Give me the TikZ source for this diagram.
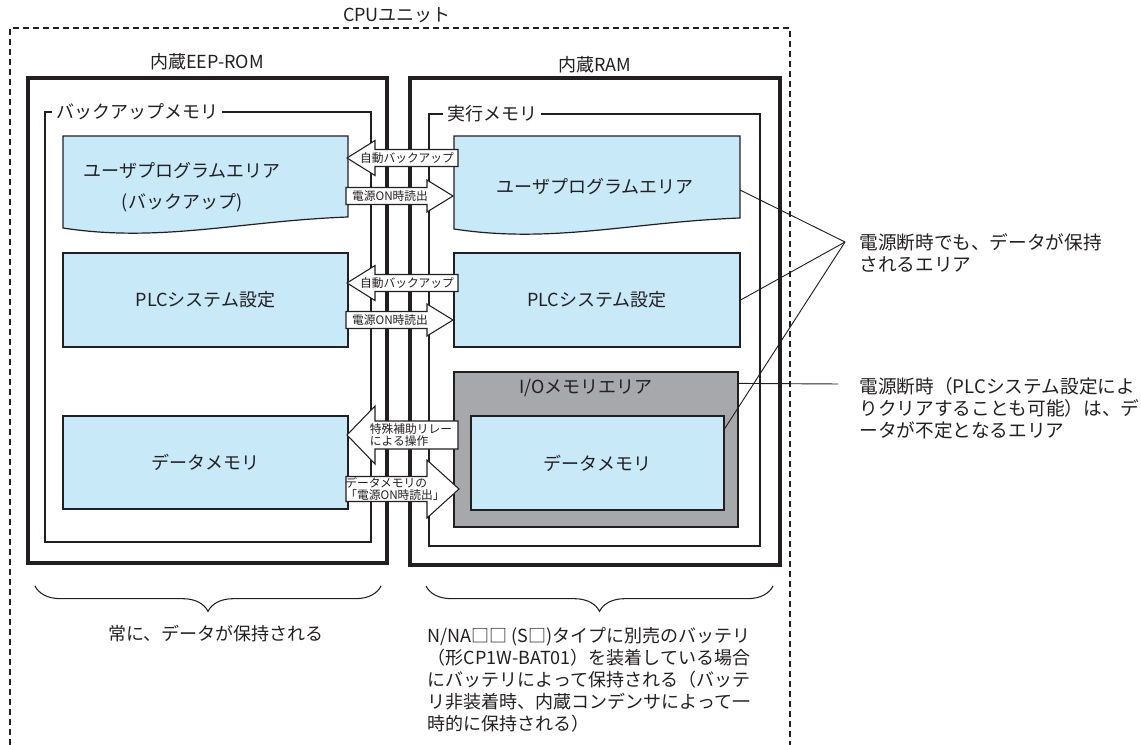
\documentclass[tikz,border=0pt]{standalone}
\usepackage{fontspec}
\setmainfont{Noto Sans CJK JP}
\usetikzlibrary{positioning,decorations.pathreplacing}
\definecolor{ink}{RGB}{35,31,32}
\definecolor{memblue}{RGB}{199,233,248}
\definecolor{iogrey}{RGB}{167,168,172}
\newcommand{\bigfont}{\fontsize{13.5}{16.5}\selectfont}
\newcommand{\notefont}{\fontsize{14}{16.5}\selectfont}
\newcommand{\tinyfont}{\fontsize{8.8}{9.5}\selectfont}
\tikzset{
  sz/.style 2 args={minimum width=#1*0.75pt,minimum height=#2*0.75pt,inner sep=0pt},
  cpuframe/.style={draw=ink,line width=0.8pt,dash pattern=on 4.5pt off 3pt},
  chip/.style={draw=ink,line width=2.3pt},
  region/.style={draw=ink,line width=0.8pt},
  area/.style={draw=ink,fill=#1,line width=0.9pt},
  area/.default=memblue,
  biglabel/.style={font=\bigfont,text=ink,inner sep=1pt},
  note/.style={font=\notefont,text=ink,inner sep=1pt,anchor=north west,align=left},
  edgelabel/.style={font=\bigfont,text=ink,fill=white,inner xsep=3pt,inner ysep=0pt,anchor=west},
  arrowtext/.style={font=\tinyfont,text=ink,align=left,inner sep=0pt},
  callout/.style={draw=ink,line width=0.7pt},
  bracket/.style={draw=ink,line width=0.8pt,decorate,decoration={brace,mirror,amplitude=19pt}},
  % block arrow, tip at the origin, pointing to the left
  pics/fat/.style n args={4}{code={
    \draw[ink,fill=white,line width=0.8pt] (0,0) -- (#2,-#4) -- (#2,-#3) -- (#1,-#3)
      -- (#1,#3) -- (#2,#3) -- (#2,#4) -- cycle;
  }},
}
\begin{document}
\begin{tikzpicture}[x=0.75pt,y=-0.75pt]
  \useasboundingbox (0,0) rectangle (1141,745);
  % CPU unit, open at the bottom
  \draw[cpuframe] (10,745) -- (10,28) -- (790,28) -- (790,745);
  \node[biglabel] (cpu) at (397,15) {CPUユニット};

  % built-in memories
  \node[chip,sz={359}{485}] (rom) at (207.5,320.5) {};
  \node[chip,sz={370}{487}] (ram) at (595,321.5) {};
  \node[biglabel] (romlbl) at (207,62) {内蔵EEP-ROM};
  \node[biglabel] (ramlbl) at (595,65) {内蔵RAM};
  \node[region,sz={326}{430}] (bak) at (208,327) {};
  \node[region,sz={331}{432}] (exe) at (594.5,330) {};
  \node[edgelabel] (baklbl) at (52,112) {バックアップメモリ};
  \node[edgelabel] (exelbl) at (443,114) {実行メモリ};

  % backup side
  \draw[area] (63,136) -- (348,136) -- (348,217) .. controls (240,221) and (160,243) .. (63,228) -- cycle;
  \node[biglabel,align=center] (lup) at (182,187) {ユーザプログラムエリア\\[7pt](バックアップ)};
  \node[area,sz={285}{94}] (lplc) at (205.5,300) {};
  \node[biglabel] at (lplc) {PLCシステム設定};
  \node[area,sz={285}{93}] (ldat) at (205.5,462.5) {};
  \node[biglabel] at (ldat) {データメモリ};

  % execution side
  \draw[area] (454,136) -- (740,136) -- (740,218) .. controls (632,222) and (552,244) .. (454,229) -- cycle;
  \coordinate (rup) at (740,190);
  \node[biglabel] (ruplbl) at (595,187) {ユーザプログラムエリア};
  \node[area,sz={286}{94}] (rplc) at (597,300) {};
  \node[biglabel] at (rplc) {PLCシステム設定};
  \node[area=iogrey,sz={284}{155}] (io) at (596,449.5) {};
  \node[biglabel] (iolbl) at (586,388) {I/Oメモリエリア};
  \node[area,sz={253}{94}] (rdat) at (597.5,463) {};
  \node[biglabel] at (rdat) {データメモリ};

  % transfers
  \pic at (347,158) {fat={111}{28}{8.5}{17.5}};
  \node[arrowtext] (a1) at (407,158) {自動バックアップ};
  \pic[xscale=-1] at (453,196) {fat={107}{26}{8.5}{16}};
  \node[arrowtext] (a2) at (390,196) {電源ON時読出};
  \pic at (347,283) {fat={111}{28}{8.5}{17.5}};
  \node[arrowtext] (a3) at (407,283) {自動バックアップ};
  \pic[xscale=-1] at (453,320) {fat={107}{26}{8.5}{16}};
  \node[arrowtext] (a4) at (390,320) {電源ON時読出};
  \pic at (347,435) {fat={111}{28}{14}{29}};
  \node[arrowtext] (a5) at (411,435) {特殊補助リレー\\による操作};
  \pic[xscale=-1] at (459,489) {fat={113}{32}{12.5}{29}};
  \node[arrowtext] (a6) at (395,489) {データメモリの\\「電源ON時読出」};

  % callouts
  \coordinate (kept) at (845,242);
  \draw[callout] (rup) -- (kept);
  \draw[callout] (rplc.east) -- (kept);
  \draw[callout] ([yshift=-10pt]rdat.north east) -- (kept);
  \coordinate (lost) at (838,384);
  \draw[callout] ([yshift=-9pt]io.north east) -- (lost);
  \node[note] (keptlbl) at (858,232)
    {電源断時でも、データが保持\\されるエリア};
  \node[note] (lostlbl) at (858,376)
    {電源断時（PLCシステム設定によ\\りクリアすることも可能）は、デ\\ータが不定となるエリア};

  % retention notes
  \coordinate (lb1) at (35,586);
  \coordinate (lb2) at (381,586);
  \coordinate (rb1) at (426,586);
  \coordinate (rb2) at (773,586);
  \draw[bracket] (lb1) -- (lb2);
  \draw[bracket] (rb1) -- (rb2);
  \node[biglabel] (always) at (216,634) {常に、データが保持される};
  \node[biglabel,anchor=north west,align=left] (battery) at (426,626)
    {N/NA□□ (S□)タイプに別売のバッテリ\\（形CP1W-BAT01）を装着している場合\\にバッテリによって保持される（バッテ\\リ非装着時、内蔵コンデンサによって一\\時的に保持される）};
\end{tikzpicture}
\end{document}
